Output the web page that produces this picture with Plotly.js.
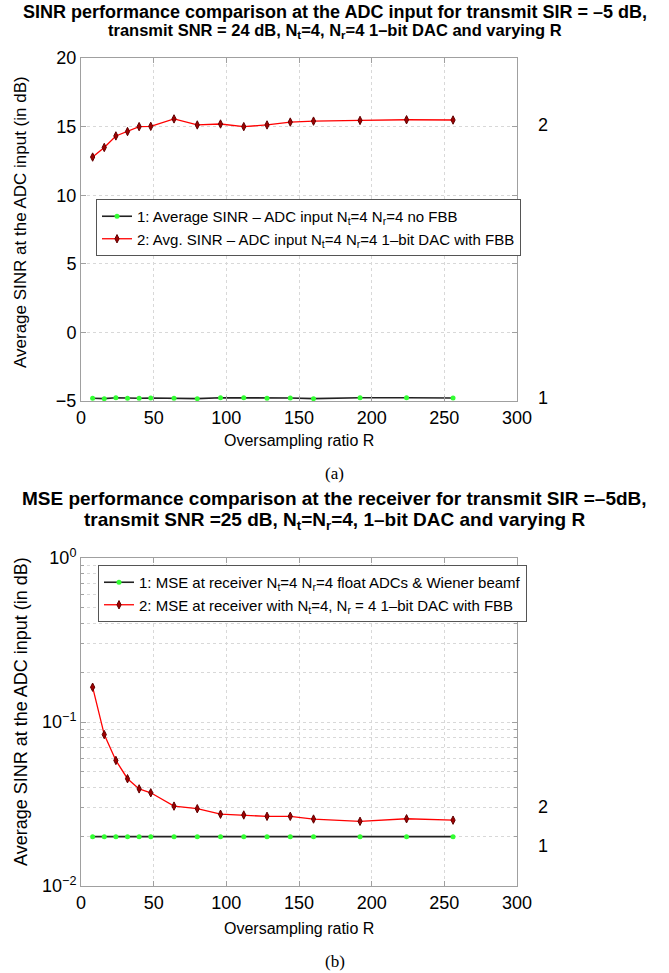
<!DOCTYPE html>
<html>
<head>
<meta charset="utf-8">
<script src="https://cdn.plot.ly/plotly-3.0.1.min.js"></script>
<style>html,body{margin:0;padding:0;background:#fff;} #chart{width:669px;height:973px;}</style>
</head>
<body>
<div id="chart"></div>
<script>
// ---------- data ----------
const ratioR = [8, 16, 24, 32, 40, 48, 64, 80, 96, 112, 128, 144, 160, 192, 224, 256];

// (a) Average SINR at the ADC input (dB)
const sinrNoFBB   = [-4.80, -4.83, -4.76, -4.80, -4.80, -4.78, -4.80, -4.83, -4.76, -4.76, -4.80, -4.78, -4.83, -4.76, -4.76, -4.78];
const sinrWithFBB = [12.78, 13.48, 14.32, 14.64, 15.00, 15.02, 15.56, 15.12, 15.19, 15.00, 15.12, 15.33, 15.40, 15.45, 15.50, 15.48];

// (b) MSE at receiver
const mseFloatADC = [0.0200, 0.0200, 0.0200, 0.0200, 0.0200, 0.0200, 0.0200, 0.0200, 0.0200, 0.0200, 0.0200, 0.0200, 0.0200, 0.0200, 0.0200, 0.0200];
const mseWithFBB  = [0.163, 0.0838, 0.0583, 0.0451, 0.0391, 0.0370, 0.0307, 0.0296, 0.0274, 0.0271, 0.0266, 0.0266, 0.0256, 0.0248, 0.0257, 0.0252];

const xTickVals = [0, 50, 100, 150, 200, 250, 300];
const yTickValsA = [-5, 0, 5, 10, 15, 20];
const yTickValsB = [0.01, 0.1, 1];
const yTickTextB = ['10<sup>−2</sup>', '10<sup>−1</sup>', '10<sup>0</sup>'];
const yMinorB = [0.02,0.03,0.04,0.05,0.06,0.07,0.08,0.09,0.2,0.3,0.4,0.5,0.6,0.7,0.8,0.9];

const namesA = ['1: Average SINR – ADC input N<sub>t</sub>=4 N<sub>r</sub>=4 no FBB',
                '2: Avg. SINR – ADC input N<sub>t</sub>=4 N<sub>r</sub>=4 1–bit DAC with FBB'];
const namesB = ['1: MSE at receiver N<sub>t</sub>=4 N<sub>r</sub>=4 float ADCs &amp; Wiener beamf',
                '2: MSE at receiver with N<sub>t</sub>=4, N<sub>r</sub> = 4 1–bit DAC with FBB'];
const titleA1 = 'SINR performance comparison at the ADC input for transmit SIR = –5 dB,';
const titleA2 = 'transmit SNR = 24 dB, N<sub>t</sub>=4, N<sub>r</sub>=4 1–bit DAC and varying R';
const titleB1 = 'MSE performance comparison at the receiver for transmit SIR =–5dB,';
const titleB2 = 'transmit SNR =25 dB, N<sub>t</sub>=N<sub>r</sub>=4, 1–bit DAC and varying R';
const xTitle = 'Oversampling ratio R';
const yTitle = 'Average SINR at the ADC input (in dB)';

// ---------- layout helpers ----------
const W = 669, H = 973;
const px = v => v / W;
const py = v => 1 - v / H;
const FONT = 'Liberation Sans, Arial, Helvetica, sans-serif';

const axisStyle = {
  showline: true, linecolor: '#a0a0a0', linewidth: 1, mirror: 'ticks',
  ticks: 'inside', ticklen: 5, tickcolor: '#a0a0a0', tickwidth: 1,
  showgrid: true, gridcolor: '#d8d8d8', griddash: 'dot', gridwidth: 1,
  zeroline: false, tickfont: {size: 18, family: FONT, color: '#000'}
};

const redLine = {color: '#ff0000', width: 1.3};
const redMarker = {symbol: 'diamond-tall', size: 6, color: '#a00000', line: {color: '#600000', width: 1}};
const blkLine = {color: '#222222', width: 1.6};
const grnMarker = {symbol: 'circle', size: 5, color: '#33ff33', line: {width: 0}};

const traces = [
  {x: ratioR, y: sinrNoFBB, name: namesA[0], mode: 'lines+markers', line: blkLine, marker: grnMarker, xaxis: 'x', yaxis: 'y', legend: 'legend'},
  {x: ratioR, y: sinrWithFBB, name: namesA[1], mode: 'lines+markers', line: redLine, marker: redMarker, xaxis: 'x', yaxis: 'y', legend: 'legend'},
  {x: ratioR, y: mseFloatADC, name: namesB[0], mode: 'lines+markers', line: blkLine, marker: grnMarker, xaxis: 'x2', yaxis: 'y2', legend: 'legend2'},
  {x: ratioR, y: mseWithFBB, name: namesB[1], mode: 'lines+markers', line: redLine, marker: redMarker, xaxis: 'x2', yaxis: 'y2', legend: 'legend2'}
];

const legendStyle = {
  xanchor: 'left', yanchor: 'top', bgcolor: '#ffffff', bordercolor: '#555555', borderwidth: 1,
  font: {size: 15, family: FONT, color: '#000'}, itemwidth: 30, tracegroupgap: 0
};

const ann = (text, x, y, opts) => Object.assign({text, x, y, xref: 'paper', yref: 'paper', showarrow: false,
  font: {family: FONT, size: 16, color: '#000'}}, opts || {});
const bold = s => ({family: FONT, size: s, weight: 'bold', color: '#000'});
const plain = s => ({family: FONT, size: s, color: '#000'});

const layout = {
  width: W, height: H, margin: {l: 0, r: 0, t: 0, b: 0},
  paper_bgcolor: '#ffffff', plot_bgcolor: '#ffffff',
  font: {family: FONT, color: '#000', size: 16},
  showlegend: true,
  xaxis: Object.assign({}, axisStyle, {domain: [px(81), px(517)], range: [0, 300], tickvals: xTickVals, anchor: 'y'}),
  yaxis: Object.assign({}, axisStyle, {domain: [py(401), py(58)], range: [-5, 20], tickvals: yTickValsA, anchor: 'x'}),
  xaxis2: Object.assign({}, axisStyle, {domain: [px(81), px(517)], range: [0, 300], tickvals: xTickVals, anchor: 'y2'}),
  yaxis2: Object.assign({}, axisStyle, {domain: [py(886), py(558)], type: 'log', range: [-2, 0], tickvals: yTickValsB, ticktext: yTickTextB, anchor: 'x2',
    minor: {tickvals: yMinorB, ticks: 'inside', ticklen: 3, tickcolor: '#a0a0a0', showgrid: true, gridcolor: '#d8d8d8', griddash: 'dot'}}),
  legend: Object.assign({}, legendStyle, {x: px(96), y: py(199)}),
  legend2: Object.assign({}, legendStyle, {x: px(98), y: py(565)}),
  annotations: [
    ann(titleA1, 0.5, py(12), {xanchor: 'center', yanchor: 'middle', font: bold(18)}),
    ann(titleA2, 0.5, py(31), {xanchor: 'center', yanchor: 'middle', font: bold(16.5)}),
    ann(titleB1, 0.5, py(498), {xanchor: 'center', yanchor: 'middle', font: bold(19)}),
    ann(titleB2, 0.5, py(521), {xanchor: 'center', yanchor: 'middle', font: bold(19)}),
    ann(xTitle, px(299), py(440), {xanchor: 'center', yanchor: 'middle', font: plain(16)}),
    ann(xTitle, px(299), py(928), {xanchor: 'center', yanchor: 'middle', font: plain(16)}),
    ann(yTitle, px(20), py(222), {xanchor: 'center', yanchor: 'middle', textangle: -90, font: plain(17)}),
    ann(yTitle, px(21), py(712), {xanchor: 'center', yanchor: 'middle', textangle: -90, font: plain(18)}),
    ann('(a)', 0.5, py(474), {xanchor: 'center', yanchor: 'middle', font: {family: 'Liberation Serif, Times New Roman, serif', size: 17, color: '#000'}}),
    ann('(b)', 0.5, py(961), {xanchor: 'center', yanchor: 'middle', font: {family: 'Liberation Serif, Times New Roman, serif', size: 17, color: '#000'}}),
    // curve labels on the right of each panel
    {text: '2', xref: 'x', yref: 'y', x: 300, y: sinrWithFBB[sinrWithFBB.length - 1] - 0.4, xanchor: 'left', yanchor: 'middle', xshift: 19, showarrow: false, font: plain(18)},
    {text: '1', xref: 'x', yref: 'y', x: 300, y: sinrNoFBB[sinrNoFBB.length - 1], xanchor: 'left', yanchor: 'middle', xshift: 19, showarrow: false, font: plain(18)},
    {text: '2', xref: 'x2', yref: 'y2', x: 300, y: Math.log10(mseWithFBB[mseWithFBB.length - 1]), yshift: 13, xanchor: 'left', yanchor: 'middle', xshift: 19, showarrow: false, font: plain(18)},
    {text: '1', xref: 'x2', yref: 'y2', x: 300, y: Math.log10(mseFloatADC[mseFloatADC.length - 1]), yshift: -9, xanchor: 'left', yanchor: 'middle', xshift: 19, showarrow: false, font: plain(18)}
  ]
};

Plotly.newPlot('chart', traces, layout, {displayModeBar: false, staticPlot: true});
</script>
</body>
</html>
